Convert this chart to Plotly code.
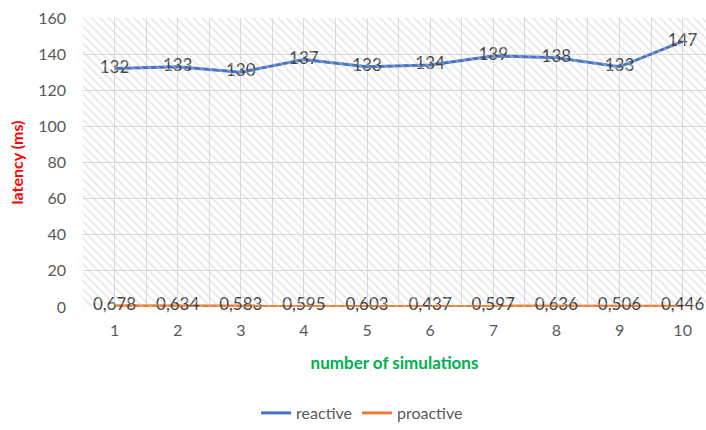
import plotly.graph_objects as go

simulations = [1, 2, 3, 4, 5, 6, 7, 8, 9, 10]
reactive = [132, 133, 130, 137, 133, 134, 139, 138, 133, 147]
proactive = [0.678, 0.634, 0.583, 0.595, 0.603, 0.437, 0.597, 0.636, 0.506, 0.446]
y_ticks = [0, 20, 40, 60, 80, 100, 120, 140, 160]

FONT = "Lato, Open Sans, sans-serif"
LABEL_COLOR = "#404040"
TICK_COLOR = "#595959"
GRID = "#d9d9d9"

def fmt(v):
    if float(v).is_integer():
        return str(int(v))
    return f"{v:.3f}".replace(".", ",")

fig = go.Figure()

# hatched plot-area background (decoration)
fig.add_trace(go.Bar(
    x=[0.5], y=[y_ticks[-1]], width=[1], xaxis="x2", yaxis="y",
    marker=dict(color="rgba(0,0,0,0)", line=dict(width=0),
                pattern=dict(shape="\\", fgcolor="#d0d0d0", bgcolor="rgba(0,0,0,0)",
                             size=6, solidity=0.3, fillmode="overlay")),
    showlegend=False, hoverinfo="skip",
))

fig.add_trace(go.Scatter(
    x=simulations, y=reactive, name="reactive", mode="lines+text",
    line=dict(color="#4472C4", width=3), cliponaxis=False,
    text=[fmt(v) for v in reactive], textposition="middle center",
    textfont=dict(family=FONT, size=17, color=LABEL_COLOR),
))
fig.add_trace(go.Scatter(
    x=simulations, y=proactive, name="proactive", mode="lines+text",
    line=dict(color="#ED7D31", width=3), cliponaxis=False,
    text=[fmt(v) for v in proactive], textposition="middle center",
    textfont=dict(family=FONT, size=17, color=LABEL_COLOR),
))

fig.update_layout(
    width=706, height=430,
    margin=dict(l=83, r=0, t=18, b=121),
    paper_bgcolor="white", plot_bgcolor="white",
    font=dict(family=FONT, size=16, color=TICK_COLOR),
    showlegend=True,
    legend=dict(orientation="h", x=0.448, xanchor="center", y=-0.31, yanchor="top",
                font=dict(family=FONT, size=16, color=TICK_COLOR), bgcolor="rgba(0,0,0,0)"),
    xaxis=dict(
        range=[0.5, 10.37], tickmode="array", tickvals=simulations,
        ticktext=[str(s) for s in simulations], automargin=False,
        showgrid=True, gridcolor=GRID, gridwidth=1,
        minor=dict(tickmode="array", tickvals=[s - 0.5 for s in simulations] + [simulations[-1] + 0.5],
                   showgrid=True, gridcolor=GRID, gridwidth=1),
        zeroline=False, showline=False, ticks="", ticklabelstandoff=12,
        ticklabeloverflow="allow",
        tickfont=dict(family=FONT, size=16, color=TICK_COLOR),
        title=dict(text="<b>number of simulations</b>", standoff=19,
                   font=dict(family=FONT, size=17, color="#00B050")),
    ),
    xaxis2=dict(range=[0, 1], overlaying="x", visible=False, showgrid=False),
    yaxis=dict(
        range=[0, 160], tickmode="array", tickvals=y_ticks, automargin=False,
        showgrid=True, gridcolor=GRID, gridwidth=1,
        zeroline=False, showline=False, ticks="", ticklabelstandoff=16,
        ticklabeloverflow="allow",
        tickfont=dict(family=FONT, size=16, color=TICK_COLOR),
        title=dict(text="<b>latency (ms)</b>", standoff=10,
                   font=dict(family=FONT, size=16, color="#FF0000")),
    ),
    bargap=0,
)

fig.write_html("out.html", config={"displayModeBar": False},
               post_script="document.body.style.margin='0';document.body.style.overflow='hidden';")
